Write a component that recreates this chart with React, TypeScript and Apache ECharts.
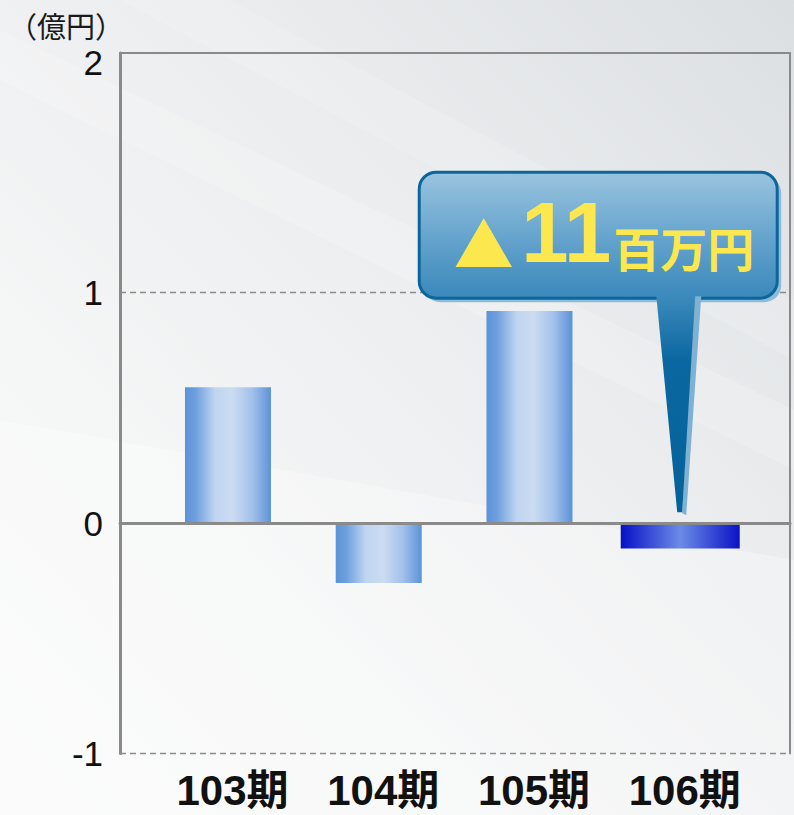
import React, { useEffect, useRef } from "react";
import * as echarts from "echarts";

const categories = ["103期", "104期", "105期", "106期"];
const profitValues: (number | string)[] = [0.59, -0.26, 0.92, "-"];
const highlightValues: (number | string)[] = ["-", "-", "-", -0.11];
const gridLineValues = [1, -1];
const yMin = -1;
const yMax = 2.04;
const yInterval = 1;
const unitLabel = "（億円）";
const calloutMark = "▲";
const calloutNumber = "11";
const calloutUnit = "百万円";

const GRAY = "#8a8a8a";
const LATIN = '"Liberation Sans", "Noto Sans CJK JP", sans-serif';
const CJK = '"Noto Sans CJK JP", sans-serif';

const lightBar = {
  type: "linear", x: 0, y: 0, x2: 1, y2: 0,
  colorStops: [
    { offset: 0, color: "#5b92d9" },
    { offset: 0.12, color: "#6c9fdd" },
    { offset: 0.35, color: "#c0d5f0" },
    { offset: 0.55, color: "#cbdcf2" },
    { offset: 0.78, color: "#a3c1ea" },
    { offset: 1, color: "#5b92d9" },
  ],
};
const darkBar = {
  type: "linear", x: 0, y: 0, x2: 1, y2: 0,
  colorStops: [
    { offset: 0, color: "#0710c6" },
    { offset: 0.5, color: "#6b8be6" },
    { offset: 1, color: "#0a12c6" },
  ],
};

export default function App() {
  const ref = useRef<HTMLDivElement>(null);
  useEffect(() => {
    if (!ref.current) return;
    const chart = echarts.init(ref.current, null, { renderer: "svg" });
    const option: any = {
      animation: false,
      backgroundColor: {
        type: "linear", x: 1, y: 0, x2: 0, y2: 1,
        colorStops: [
          { offset: 0, color: "#dcdfe2" },
          { offset: 0.35, color: "#eaecee" },
          { offset: 0.7, color: "#f5f6f6" },
          { offset: 1, color: "#fafafa" },
        ],
      },
      title: {
        text: unitLabel,
        left: 3,
        top: 5,
        textStyle: { fontSize: 29, fontWeight: "normal", color: "#1a1a1a", fontFamily: CJK },
      },
      grid: [
        { left: 120, top: 53, width: 670, height: 700.6 },
        { left: 152.6, top: 53, width: 603, height: 700.6 },
      ],
      xAxis: [
        {
          gridIndex: 0, type: "value", min: 0, max: 1, z: 5,
          axisLine: { show: true, onZero: true, onZeroAxisIndex: 0, lineStyle: { color: GRAY, width: 3 } },
          axisTick: { show: false }, axisLabel: { show: false }, splitLine: { show: false },
        },
        {
          gridIndex: 0, type: "value", min: 0, max: 1, position: "top", z: 5,
          axisLine: { show: true, onZero: false, lineStyle: { color: GRAY, width: 2 } },
          axisTick: { show: false }, axisLabel: { show: false }, splitLine: { show: false },
        },
        {
          gridIndex: 1, type: "category", data: categories, position: "bottom",
          axisLine: { show: false, onZero: false }, axisTick: { show: false },
          axisLabel: {
            interval: 0, fontSize: 42, fontWeight: "bold", color: "#111",
            fontFamily: LATIN, margin: 16, lineHeight: 42, padding: [0, 0, 0, 9],
          },
        },
        {
          gridIndex: 1, type: "category", data: categories, position: "top", show: false,
        },
      ],
      yAxis: [
        {
          gridIndex: 0, type: "value", min: yMin, max: yMax, interval: yInterval,
          axisLine: { show: true, onZero: false, lineStyle: { color: GRAY, width: 3 } },
          axisTick: { show: false },
          axisLabel: { fontSize: 35, color: "#111", margin: 17, showMaxLabel: false, fontFamily: LATIN },
          splitLine: { show: false },
        },
        {
          gridIndex: 0, type: "value", min: yMin, max: yMax, position: "right",
          axisLine: { show: true, onZero: false, lineStyle: { color: GRAY, width: 2 } },
          axisTick: { show: false }, axisLabel: { show: false }, splitLine: { show: false },
        },
        { gridIndex: 1, type: "value", min: yMin, max: yMax, show: false, splitLine: { show: false } },
      ],
      series: [
        {
          type: "line", xAxisIndex: 0, yAxisIndex: 0, data: [], silent: true,
          markLine: {
            silent: true, symbol: "none", label: { show: false },
            lineStyle: { color: "#8c8c8c", width: 1.3, type: [6, 4] },
            data: gridLineValues.map((v) => ({ yAxis: v })),
          },
        },
        {
          type: "bar", xAxisIndex: 2, yAxisIndex: 2, data: profitValues,
          barWidth: 86, itemStyle: { color: lightBar },
        },
        {
          type: "bar", xAxisIndex: 3, yAxisIndex: 2, data: highlightValues,
          barWidth: 119, itemStyle: { color: darkBar },
        },
      ],
      graphic: [
        {
          type: "polygon", id: "streak1", z: -10, silent: true,
          shape: { points: [[0, 30], [0, 80], [794, 470], [794, 410]] },
          style: { fill: "rgba(255,255,255,0.18)" },
        },
        {
          type: "polygon", id: "streak2", z: -10, silent: true,
          shape: { points: [[120, 0], [230, 0], [794, 300], [794, 360]] },
          style: { fill: "rgba(255,255,255,0.14)" },
        },
        {
          type: "polygon", id: "streak3", z: -10, silent: true,
          shape: { points: [[0, 420], [794, 560], [794, 815], [0, 815]] },
          style: { fill: "rgba(255,255,255,0.3)" },
        },
      ],
    };
    chart.setOption(option);

    const p = chart.convertToPixel({ seriesIndex: 2 }, [3, 0]) as number[];
    const tx = p[0] - 1;
    const ty = p[1] - 11;
    const boxX = tx - 260;
    const boxY = ty - 340;
    const boxW = 358;
    const boxH = 126;
    chart.setOption({
      graphic: [
        {
          type: "rect", id: "calloutShadow", z: 50,
          shape: { x: boxX + 4, y: boxY + 4, width: boxW, height: boxH, r: 17 },
          style: { fill: "#8ebbd7" },
        },
        {
          type: "rect", id: "calloutBox", z: 51,
          shape: { x: boxX, y: boxY, width: boxW, height: boxH, r: 17 },
          style: {
            fill: {
              type: "linear", x: 0, y: 0, x2: 0, y2: 1,
              colorStops: [
                { offset: 0, color: "#9ac4df" },
                { offset: 0.5, color: "#67a5ce" },
                { offset: 1, color: "#3a88bb" },
              ],
            },
            stroke: "#0b669c",
            lineWidth: 3,
          },
        },
        {
          type: "polygon", id: "pointerLight", z: 52,
          shape: { points: [[tx + 14, ty - 216], [tx + 22, ty - 216], [tx + 7, ty + 3], [tx + 3, ty + 1]] },
          style: { fill: "#7fb2d2" },
        },
        {
          type: "polygon", id: "pointerDark", z: 53,
          shape: { points: [[tx - 23, ty - 217], [tx + 16, ty - 217], [tx + 3, ty], [tx - 2, ty]] },
          style: {
            fill: {
              type: "linear", x: 0, y: 0, x2: 0, y2: 1,
              colorStops: [
                { offset: 0, color: "#3d8bbd" },
                { offset: 0.3, color: "#0b67a0" },
                { offset: 1, color: "#04629a" },
              ],
            },
          },
        },
        {
          type: "text", id: "calloutMark", z: 55,
          x: tx - 195.5, y: ty - 271,
          style: {
            text: calloutMark, fill: "#fde74f", font: `60px ${CJK}`,
            textAlign: "center", textVerticalAlign: "middle",
          },
        },
        {
          type: "text", id: "calloutNumber", z: 55,
          x: tx - 113, y: ty - 279.5,
          style: {
            text: calloutNumber, fill: "#fde74f", font: `bold 85px ${LATIN}`,
            textAlign: "center", textVerticalAlign: "middle",
          },
        },
        {
          type: "text", id: "calloutUnit", z: 55,
          x: tx + 4.5, y: ty - 265.5,
          style: {
            text: calloutUnit, fill: "#fde74f", font: `bold 47px ${CJK}`,
            textAlign: "center", textVerticalAlign: "middle",
          },
        },
      ],
    });
    return () => chart.dispose();
  }, []);
  return (
    <div
      ref={ref}
      style={{ position: "absolute", left: 0, top: 0, width: 794, height: 815 }}
    />
  );
}
